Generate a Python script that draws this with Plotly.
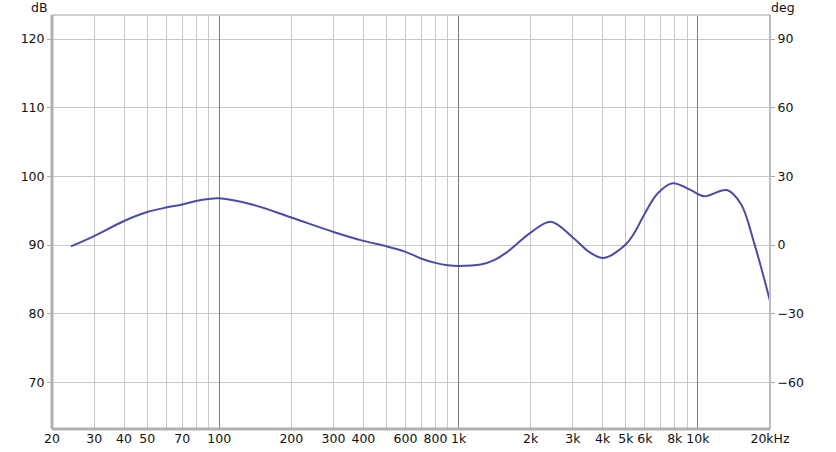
import plotly.graph_objects as go
import numpy as np

# Frequency response data (Hz, dB)
freq_hz = [24, 30, 40, 50, 60, 70, 80, 90, 100, 137, 200, 300, 400, 500, 600, 700,
           800, 900, 1000, 1237, 1407, 1598, 2000, 2426, 3000, 3508, 4030, 5000,
           5410, 6000, 6780, 7830, 9340, 10600, 13200, 15100, 17200, 20000]
level_db = [89.8, 91.3, 93.5, 94.8, 95.45, 95.9, 96.4, 96.7, 96.8, 95.9, 94.0, 91.9,
            90.6, 89.8, 89.0, 88.0, 87.4, 87.05, 86.95, 87.15, 87.8, 89.0, 91.8, 93.4,
            91.1, 89.0, 88.1, 90.1, 91.7, 94.6, 97.5, 99.0, 98.0, 97.1, 98.0,
            96.0, 90.2, 81.85]

# Axis ticks
x_grid_vals = [20, 30, 40, 50, 60, 70, 80, 90, 100, 200, 300, 400, 500, 600, 700, 800, 900,
               1000, 2000, 3000, 4000, 5000, 6000, 7000, 8000, 9000, 10000, 20000]
x_grid_text = ["20", "30", "40", "50", "", "70", "", "", "100", "200", "300", "400", "",
               "600", "", "800", "", "1k", "2k", "3k", "4k", "5k", "6k", "", "8k", "", "10k", "20kHz"]
x_major_vals = [100, 1000, 10000]
db_ticks = [70, 80, 90, 100, 110, 120]
deg_ticks = [-60, -30, 0, 30, 60, 90]

db_range = [63.2, 123.5]
deg_range = [(v - 90) * 3 for v in db_range]
x_range = [np.log10(20), np.log10(20000)]

font = dict(family="DejaVu Sans, Verdana, sans-serif", size=12.5, color="#111")

fig = go.Figure()
# invisible helper traces so that base axes get drawn
fig.add_trace(go.Scatter(x=[20, 20000], y=db_range, xaxis="x", yaxis="y", mode="lines",
                         line=dict(width=0), opacity=0, hoverinfo="skip", showlegend=False))
fig.add_trace(go.Scatter(x=[20, 20000], y=deg_range, xaxis="x", yaxis="y2", mode="lines",
                         line=dict(width=0), opacity=0, hoverinfo="skip", showlegend=False))
fig.add_trace(go.Scatter(
    x=freq_hz, y=level_db, mode="lines", xaxis="x2", yaxis="y",
    line=dict(color="#4b4ba8", width=2, shape="spline", smoothing=1.0),
    hoverinfo="x+y", showlegend=False))

fig.update_layout(
    width=836, height=452,
    margin=dict(l=52, r=66, t=15, b=23, autoexpand=False),
    paper_bgcolor="white", plot_bgcolor="white",
    font=font,
    xaxis=dict(type="log", range=x_range, tickvals=x_grid_vals, ticktext=x_grid_text,
               showgrid=True, gridcolor="#c8c8c8", gridwidth=1, zeroline=False,
               ticks="", showline=False, tickfont=font, automargin=False, tickangle=0),
    xaxis2=dict(type="log", range=x_range, overlaying="x", tickvals=x_major_vals,
                showticklabels=False, showgrid=True, gridcolor="#7a7a7a", gridwidth=1,
                zeroline=False, ticks="", showline=False, anchor="y", automargin=False),
    yaxis=dict(range=db_range, tickvals=db_ticks, showgrid=True, gridcolor="#c8c8c8",
               zeroline=False, ticks="outside", ticklen=4, tickcolor="#aaaaaa",
               showline=False, tickfont=font, automargin=False),
    yaxis2=dict(range=deg_range, tickvals=deg_ticks, overlaying="y", side="right",
                showgrid=False, zeroline=False, ticks="outside", ticklen=4,
                tickcolor="#aaaaaa", showline=False, tickfont=font, anchor="x",
                automargin=False),
    shapes=[
        dict(type="line", xref="paper", yref="paper", x0=0, x1=1, y0=1, y1=1,
             line=dict(color="#cfcfcf", width=2)),
        dict(type="line", xref="paper", yref="paper", x0=1, x1=1, y0=0, y1=1,
             line=dict(color="#bdbdbd", width=2)),
        dict(type="line", xref="paper", yref="paper", x0=0, x1=0, y0=0, y1=1,
             line=dict(color="#b0b0b0", width=3)),
        dict(type="line", xref="paper", yref="paper", x0=0, x1=1, y0=0, y1=0,
             line=dict(color="#b0b0b0", width=3)),
    ],
    annotations=[
        dict(text="dB", xref="paper", yref="paper", x=-0.018, y=1.0, yshift=8,
             showarrow=False, xanchor="center", yanchor="middle", font=font),
        dict(text="deg", xref="paper", yref="paper", x=1.018, y=1.0, yshift=8,
             showarrow=False, xanchor="center", yanchor="middle", font=font),
    ],
)

fig.write_html("out.html", config={"displayModeBar": False},
               post_script="document.body.style.margin='0';")
